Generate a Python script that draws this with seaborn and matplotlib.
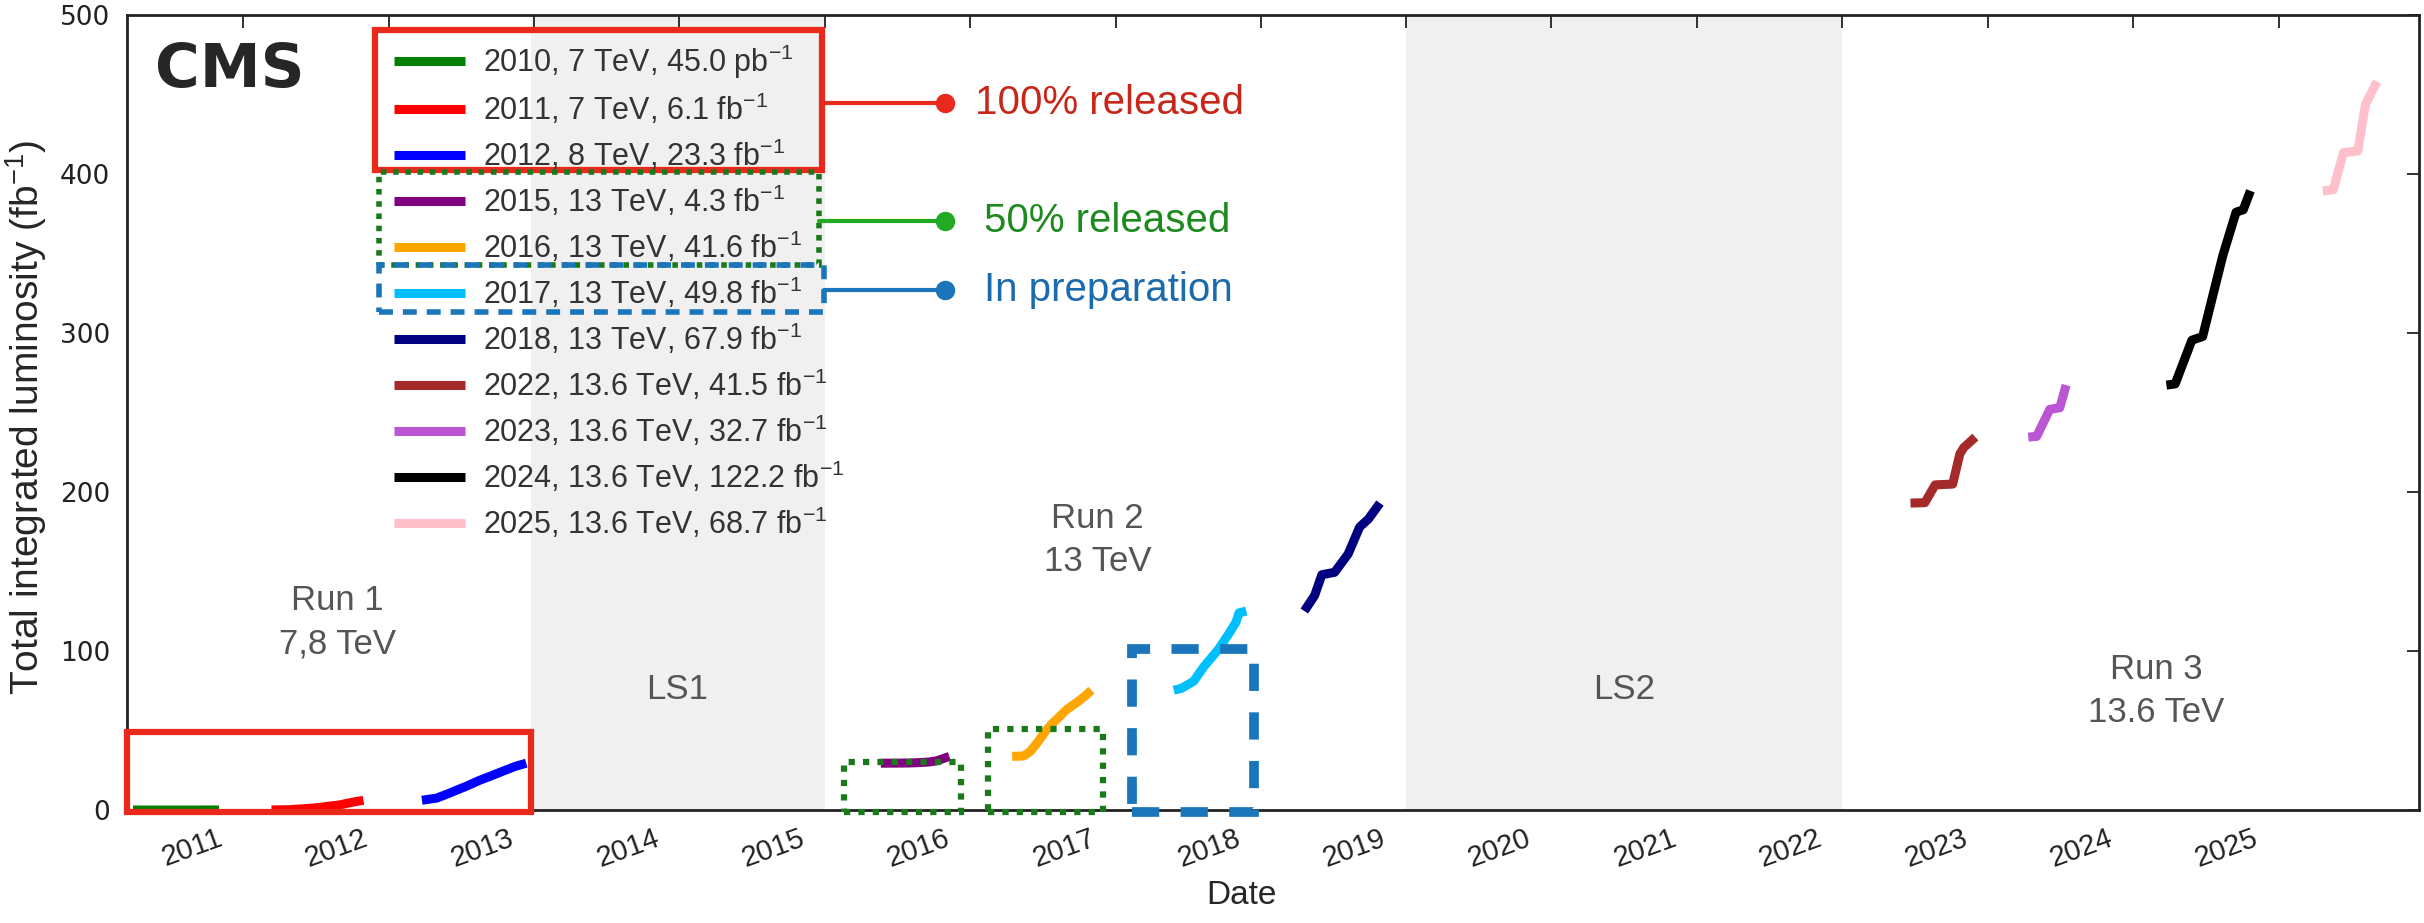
import numpy as np
import pandas as pd
import matplotlib
matplotlib.use("Agg")
import matplotlib.pyplot as plt
import matplotlib.dates as mdates
import matplotlib.transforms as mtransforms
from matplotlib.patches import Rectangle
import seaborn as sns

# ---------------- data ----------------
labels = [
    "2010, 7 TeV, 45.0 pb$^{-1}$",
    "2011, 7 TeV, 6.1 fb$^{-1}$",
    "2012, 8 TeV, 23.3 fb$^{-1}$",
    "2015, 13 TeV, 4.3 fb$^{-1}$",
    "2016, 13 TeV, 41.6 fb$^{-1}$",
    "2017, 13 TeV, 49.8 fb$^{-1}$",
    "2018, 13 TeV, 67.9 fb$^{-1}$",
    "2022, 13.6 TeV, 41.5 fb$^{-1}$",
    "2023, 13.6 TeV, 32.7 fb$^{-1}$",
    "2024, 13.6 TeV, 122.2 fb$^{-1}$",
    "2025, 13.6 TeV, 68.7 fb$^{-1}$",
]
colors = ["green", "red", "blue", "purple", "orange", "deepskyblue",
          "navy", "brown", "mediumorchid", "black", "pink"]

dates_2010 = ["2010-03-30", "2010-06-01", "2010-08-01", "2010-09-15", "2010-10-15", "2010-11-01"]
lumi_2010 = [0.0, 0.0001, 0.003, 0.01, 0.04, 0.045]

dates_2011 = ["2011-03-13", "2011-04-30", "2011-05-31", "2011-06-30", "2011-07-31",
              "2011-08-31", "2011-09-30", "2011-10-30"]
lumi_2011 = [0.045, 0.25, 0.8, 1.3, 2.3, 3.2, 4.8, 6.15]

dates_2012 = ["2012-03-25", "2012-05-01", "2012-06-01", "2012-06-20", "2012-07-15",
              "2012-08-15", "2012-09-15", "2012-10-15", "2012-11-15", "2012-12-12"]
lumi_2012 = [6.15, 7.5, 10.5, 12.5, 15.0, 18.5, 21.5, 24.5, 27.5, 29.45]

dates_2015 = ["2015-05-22", "2015-07-01", "2015-08-01", "2015-08-25", "2015-09-20",
              "2015-10-10", "2015-10-25", "2015-11-10"]
lumi_2015 = [29.45, 29.5, 29.6, 29.8, 30.2, 31.0, 32.3, 33.75]

dates_2016 = ["2016-04-16", "2016-05-15", "2016-06-01", "2016-06-20", "2016-07-10",
              "2016-07-26", "2016-08-10", "2016-08-28", "2016-09-10", "2016-09-30",
              "2016-10-15", "2016-11-01"]
lumi_2016 = [33.75, 34.0, 37.0, 43.0, 50.0, 54.5, 58.0, 62.5, 65.0, 68.5, 71.5, 75.35]

dates_2017 = ["2017-05-27", "2017-06-15", "2017-07-16", "2017-08-10", "2017-09-16",
              "2017-10-10", "2017-10-30", "2017-11-07", "2017-11-25"]
lumi_2017 = [75.35, 76.5, 81.0, 90.0, 101.0, 110.0, 118.0, 124.0, 125.15]

dates_2018 = ["2018-04-20", "2018-05-16", "2018-06-03", "2018-07-05", "2018-08-08",
              "2018-09-06", "2018-09-28", "2018-10-27"]
lumi_2018 = [125.15, 135.0, 148.0, 149.5, 161.0, 178.0, 183.0, 193.05]

dates_2022 = ["2022-06-21", "2022-07-27", "2022-08-22", "2022-10-05", "2022-10-23",
              "2022-11-02", "2022-12-01"]
lumi_2022 = [193.05, 193.3, 204.5, 205.0, 224.0, 228.0, 234.55]

dates_2023 = ["2023-04-13", "2023-05-04", "2023-06-06", "2023-07-01", "2023-07-17"]
lumi_2023 = [234.55, 235.0, 252.0, 253.0, 267.25]

dates_2024 = ["2024-03-25", "2024-04-16", "2024-05-28", "2024-06-24", "2024-07-27",
              "2024-08-14", "2024-09-16", "2024-10-04", "2024-10-22"]
lumi_2024 = [267.25, 268.0, 295.5, 297.8, 331.0, 349.0, 376.0, 377.5, 389.45]

dates_2025 = ["2025-04-22", "2025-05-18", "2025-06-13", "2025-07-19", "2025-08-07",
              "2025-09-05"]
lumi_2025 = [389.45, 390.0, 413.5, 414.5, 443.8, 458.15]

series_dates = [dates_2010, dates_2011, dates_2012, dates_2015, dates_2016, dates_2017,
                dates_2018, dates_2022, dates_2023, dates_2024, dates_2025]
series_lumi = [lumi_2010, lumi_2011, lumi_2012, lumi_2015, lumi_2016, lumi_2017,
               lumi_2018, lumi_2022, lumi_2023, lumi_2024, lumi_2025]

y_ticks = [0, 100, 200, 300, 400, 500]

# ---------------- style ----------------
sns.set_style("white")
plt.rcParams["font.family"] = ["Liberation Sans", "DejaVu Sans"]
plt.rcParams["mathtext.fontset"] = "custom"
plt.rcParams["mathtext.rm"] = "Liberation Sans"
plt.rcParams["mathtext.it"] = "Liberation Sans:italic"
plt.rcParams["mathtext.bf"] = "Liberation Sans:bold"

fig = plt.figure(figsize=(24.24, 9.23), dpi=100)
ax = fig.add_axes([0.0524, 0.1224, 0.9456, 0.8613])

# shutdown periods
ax.axvspan(pd.Timestamp("2012-12-25"), pd.Timestamp("2015-01-01"), color="#f0f0f0", zorder=0, lw=0)
ax.axvspan(pd.Timestamp("2019-01-01"), pd.Timestamp("2022-01-01"), color="#f0f0f0", zorder=0, lw=0)

for lab, col, d, l in zip(labels, colors, series_dates, series_lumi):
    df = pd.DataFrame({"date": pd.to_datetime(d), "lumi": l})
    sns.lineplot(data=df, x="date", y="lumi", color=col, lw=6.5, label=lab,
                 estimator=None, sort=False, ax=ax, solid_capstyle="butt")

ax.set_xlim(pd.Timestamp("2010-03-15"), pd.Timestamp("2025-12-20"))
ax.set_ylim(0, 500)
ax.set_yticks(y_ticks)
ax.xaxis.set_major_locator(mdates.YearLocator())
ax.xaxis.set_major_formatter(mdates.DateFormatter("%Y"))
ax.tick_params(axis="both", direction="in", length=9, width=1.3, top=True, right=True,
               colors="#222222")
ax.tick_params(axis="y", labelsize=19, pad=12)
ax.tick_params(axis="x", labelsize=21, pad=8)
for lbl in ax.get_yticklabels():
    lbl.set_family("DejaVu Sans")
shift = mtransforms.ScaledTranslation(-12 / 72, -2 / 72, fig.dpi_scale_trans)
for lbl in ax.get_xticklabels():
    lbl.set_rotation(20)
    lbl.set_ha("right")
    lbl.set_transform(lbl.get_transform() + shift)
for s in ax.spines.values():
    s.set_linewidth(2)
    s.set_color("#222222")

ax.set_xlabel("Date", fontsize=24)
ax.xaxis.set_label_coords(0.486, -0.088)
ax.set_ylabel("Total integrated luminosity (fb$^{-1}$)", fontsize=28)
ax.yaxis.set_label_coords(-0.034, 0.494)

leg = ax.legend(loc="upper left", bbox_to_anchor=(0.108, 0.99), frameon=False,
                fontsize=22, handlelength=2.3, handletextpad=0.6, labelspacing=0.35,
                borderaxespad=0.25)
for t in leg.get_texts():
    t.set_color("#333333")
for h in leg.get_lines():
    h.set_linewidth(6.5)

ax.text(0.012, 0.967, "CMS", transform=ax.transAxes, fontsize=44, fontweight="bold",
        family=["DejaVu Sans"], va="top", ha="left")

# period labels
txt_kw = dict(color="#555555", fontsize=25, ha="center", va="center", linespacing=1.4)
ax.text(pd.Timestamp("2011-08-25"), 118, "Run 1\n7,8 TeV", **txt_kw)
ax.text(pd.Timestamp("2013-12-25"), 76, "LS1", **txt_kw)
ax.text(pd.Timestamp("2016-11-17"), 170, "Run 2\n13 TeV", **txt_kw)
ax.text(pd.Timestamp("2020-07-01"), 76, "LS2", **txt_kw)
ax.text(pd.Timestamp("2024-02-28"), 75, "Run 3\n13.6 TeV", **txt_kw)

# legend highlight boxes (axes fraction)
ax.add_patch(Rectangle((0.108, 0.805), 0.195, 0.176, transform=ax.transAxes, fill=False,
                       ec="#e8291c", lw=4.5, zorder=5))
ax.add_patch(Rectangle((0.110, 0.685), 0.192, 0.117, transform=ax.transAxes, fill=False,
                       ec="#1a7a1a", lw=4, ls=(0, (1, 1.2)), zorder=5))
ax.add_patch(Rectangle((0.110, 0.626), 0.194, 0.059, transform=ax.transAxes, fill=False,
                       ec="#1a75bb", lw=4, ls=(0, (2.5, 1.8)), zorder=5))

# connectors
conn = [(0.889, 0.303, "#e8291c", "100% released", "#c9261a", 0.370),
        (0.741, 0.302, "#22aa22", "50% released", "#1d8a1d", 0.374),
        (0.654, 0.304, "#1a75bb", "In preparation", "#1a6aad", 0.374)]
for yy, x0, c, t, tc, xt in conn:
    ax.plot([x0, 0.357], [yy, yy], transform=ax.transAxes, color=c, lw=3, zorder=5)
    ax.plot([0.357], [yy], transform=ax.transAxes, marker="o", ms=13, color=c, zorder=6)
    ax.text(xt, yy, t, transform=ax.transAxes, color=tc, fontsize=29, va="center", ha="left")

# data highlight boxes (data coords)
def dbox(x0, x1, y0, y1, **kw):
    a = mdates.date2num(pd.Timestamp(x0))
    b = mdates.date2num(pd.Timestamp(x1))
    ax.add_patch(Rectangle((a, y0), b - a, y1 - y0, fill=False, clip_on=False, zorder=6, **kw))

dbox("2010-03-15", "2012-12-25", -1, 49, ec="#e8291c", lw=4.5)
dbox("2015-02-18", "2015-12-10", -1, 30, ec="#1a7a1a", lw=4.5, ls=(0, (1, 1.3)))
dbox("2016-02-15", "2016-12-01", -1, 51, ec="#1a7a1a", lw=4.5, ls=(0, (1, 1.3)))
dbox("2017-02-10", "2017-12-15", -1, 101, ec="#1a75bb", lw=7, ls=(0, (2.8, 2.2)))

fig.savefig("out.png", dpi=100)
